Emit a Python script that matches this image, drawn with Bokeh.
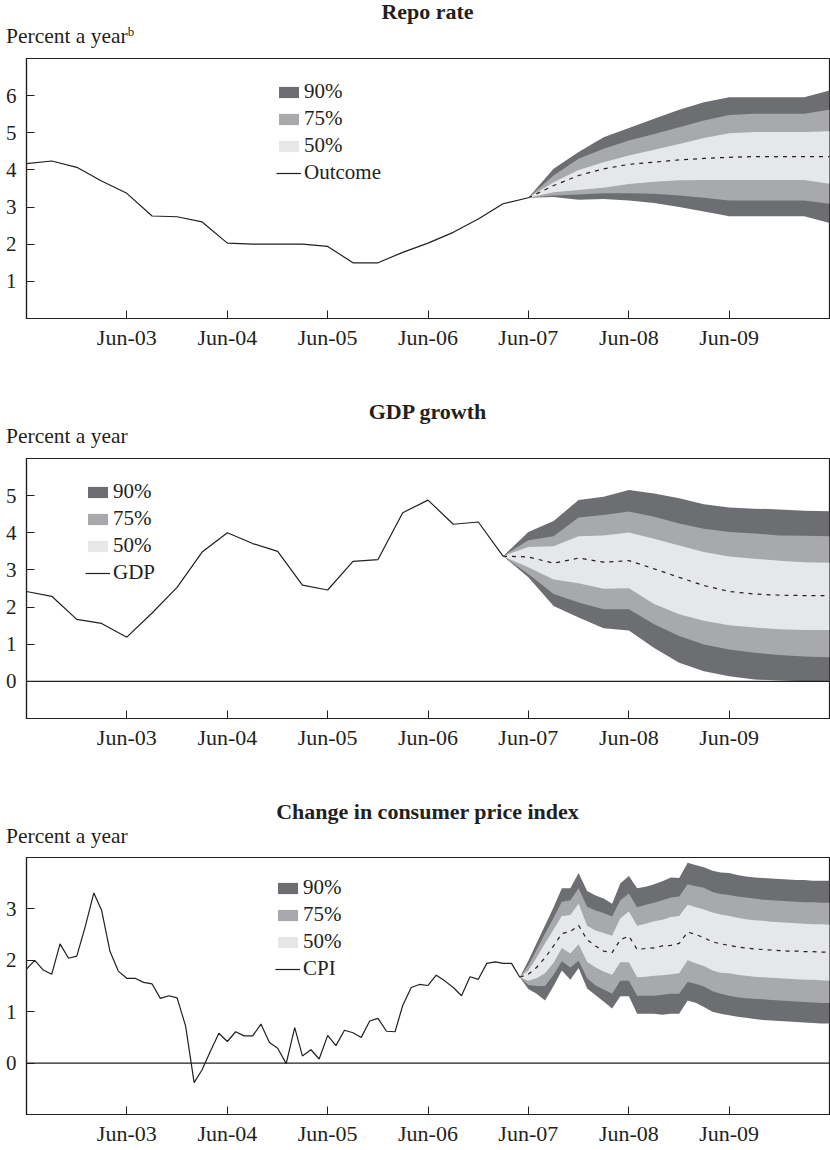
import pandas as pd
from bokeh.plotting import figure
from bokeh.models import (Range1d, FixedTicker, DatetimeTickFormatter, Div,
                          Legend, LegendItem, Span, ColumnDataSource)
from bokeh.layouts import column
from bokeh.embed import file_html
from bokeh.resources import INLINE

# ---------------- data ----------------
tick_dates = ["2003-06-01", "2004-06-01", "2005-06-01", "2006-06-01",
              "2007-06-01", "2008-06-01", "2009-06-01"]
x_start, x_end = "2002-06-01", "2010-06-01"

# Repo rate (quarterly)
repo_hist_start = "2002-06-01"
repo_hist = [4.17, 4.24, 4.07, 3.70, 3.37, 2.76, 2.74, 2.60, 2.03, 2.00, 2.00,
             2.00, 1.94, 1.50, 1.50, 1.78, 2.03, 2.32, 2.68, 3.09, 3.25]
repo_fan_start = "2007-06-01"
repo_u90 = [3.25, 4.03, 4.48, 4.88, 5.13, 5.38, 5.62, 5.82, 5.96, 5.96, 5.96, 5.96, 6.14]
repo_u75 = [3.25, 3.85, 4.30, 4.57, 4.79, 4.97, 5.15, 5.33, 5.48, 5.51, 5.51, 5.51, 5.62]
repo_u50 = [3.25, 3.67, 4.00, 4.21, 4.39, 4.54, 4.70, 4.86, 4.99, 5.02, 5.02, 5.02, 5.04]
repo_med = [3.25, 3.58, 3.85, 4.03, 4.15, 4.21, 4.27, 4.31, 4.34, 4.36, 4.36, 4.36, 4.36]
repo_l50 = [3.25, 3.40, 3.46, 3.52, 3.62, 3.68, 3.72, 3.73, 3.73, 3.73, 3.73, 3.73, 3.63]
repo_l75 = [3.25, 3.31, 3.34, 3.37, 3.37, 3.36, 3.31, 3.25, 3.18, 3.18, 3.18, 3.18, 3.09]
repo_l90 = [3.25, 3.27, 3.20, 3.22, 3.18, 3.11, 3.00, 2.88, 2.75, 2.75, 2.75, 2.75, 2.57]

# GDP growth (quarterly)
gdp_hist_start = "2002-06-01"
gdp_hist = [2.42, 2.29, 1.67, 1.56, 1.19, 1.84, 2.53, 3.48, 4.00, 3.71, 3.50,
            2.59, 2.46, 3.23, 3.28, 4.54, 4.88, 4.23, 4.29, 3.37]
gdp_fan_start = "2007-03-01"
gdp_u90 = [3.37, 4.02, 4.32, 4.88, 4.97, 5.15, 5.06, 4.93, 4.77, 4.68, 4.65, 4.63, 4.59, 4.58]
gdp_u75 = [3.37, 3.80, 3.91, 4.41, 4.48, 4.57, 4.43, 4.25, 4.11, 4.02, 3.98, 3.93, 3.92, 3.91]
gdp_u50 = [3.37, 3.62, 3.64, 3.91, 3.93, 4.01, 3.84, 3.66, 3.48, 3.36, 3.30, 3.25, 3.21, 3.19]
gdp_med = [3.37, 3.35, 3.18, 3.32, 3.21, 3.25, 3.03, 2.80, 2.58, 2.42, 2.35, 2.32, 2.31, 2.31]
gdp_l50 = [3.37, 3.07, 2.74, 2.64, 2.49, 2.51, 2.08, 1.81, 1.63, 1.51, 1.45, 1.40, 1.38, 1.38]
gdp_l75 = [3.37, 2.89, 2.35, 2.12, 1.94, 1.94, 1.54, 1.22, 0.99, 0.86, 0.77, 0.71, 0.67, 0.65]
gdp_l90 = [3.37, 2.80, 2.03, 1.72, 1.43, 1.37, 0.90, 0.50, 0.27, 0.14, 0.05, 0.02, 0.00, 0.00]

# CPI (monthly)
cpi_hist_start = "2002-06-01"
cpi_hist = [1.83, 2.00, 1.81, 1.73, 2.32, 2.04, 2.08, 2.66, 3.31, 2.98, 2.17, 1.79,
            1.65, 1.65, 1.57, 1.54, 1.26, 1.31, 1.27, 0.72, -0.38, -0.13, 0.24, 0.58,
            0.42, 0.61, 0.53, 0.53, 0.76, 0.40, 0.29, -0.01, 0.69, 0.14, 0.26, 0.08,
            0.54, 0.34, 0.64, 0.59, 0.50, 0.82, 0.87, 0.62, 0.61, 1.12, 1.47, 1.53,
            1.51, 1.71, 1.60, 1.47, 1.31, 1.68, 1.63, 1.94, 1.97, 1.94, 1.94, 1.67]
cpi_fan_start = "2007-05-01"
cpi_u90 = [1.67, 1.99, 2.33, 2.68, 3.03, 3.40, 3.40, 3.70, 3.35, 3.26, 3.20, 3.10, 3.50,
           3.64, 3.40, 3.43, 3.48, 3.54, 3.61, 3.60, 3.90, 3.85, 3.81, 3.74, 3.71, 3.70,
           3.66, 3.63, 3.61, 3.60, 3.59, 3.58, 3.57, 3.56, 3.56, 3.55, 3.55, 3.55]
cpi_u75 = [1.67, 1.90, 2.20, 2.52, 2.83, 3.14, 3.17, 3.40, 3.04, 2.97, 2.92, 2.85, 3.17,
           3.30, 3.03, 3.08, 3.12, 3.17, 3.22, 3.24, 3.48, 3.44, 3.41, 3.33, 3.29, 3.27,
           3.24, 3.22, 3.20, 3.18, 3.17, 3.16, 3.15, 3.14, 3.13, 3.13, 3.12, 3.12]
cpi_u50 = [1.67, 1.80, 2.05, 2.33, 2.60, 2.86, 2.88, 3.10, 2.67, 2.58, 2.53, 2.48, 2.82,
           2.95, 2.67, 2.71, 2.76, 2.79, 2.84, 2.86, 3.08, 3.03, 2.99, 2.93, 2.89, 2.86,
           2.83, 2.80, 2.78, 2.77, 2.75, 2.74, 2.73, 2.72, 2.71, 2.70, 2.70, 2.69]
cpi_med = [1.67, 1.73, 1.86, 2.05, 2.28, 2.52, 2.56, 2.68, 2.40, 2.28, 2.18, 2.15, 2.40,
           2.47, 2.21, 2.23, 2.24, 2.28, 2.29, 2.33, 2.55, 2.50, 2.44, 2.36, 2.32, 2.29,
           2.26, 2.24, 2.22, 2.21, 2.20, 2.19, 2.18, 2.18, 2.17, 2.17, 2.16, 2.16]
cpi_l50 = [1.67, 1.60, 1.65, 1.75, 1.95, 2.24, 2.13, 2.31, 1.97, 1.86, 1.78, 1.72, 1.96,
           1.96, 1.67, 1.68, 1.70, 1.71, 1.73, 1.75, 2.00, 1.94, 1.89, 1.80, 1.76, 1.75,
           1.72, 1.70, 1.68, 1.67, 1.66, 1.65, 1.64, 1.63, 1.62, 1.62, 1.61, 1.60]
cpi_l75 = [1.67, 1.52, 1.50, 1.50, 1.72, 1.98, 1.86, 1.99, 1.65, 1.51, 1.43, 1.35, 1.60,
           1.60, 1.31, 1.31, 1.31, 1.33, 1.35, 1.35, 1.58, 1.54, 1.49, 1.40, 1.35, 1.31,
           1.28, 1.26, 1.25, 1.24, 1.23, 1.22, 1.21, 1.20, 1.19, 1.18, 1.17, 1.17]
cpi_l90 = [1.67, 1.44, 1.35, 1.22, 1.50, 1.80, 1.62, 1.85, 1.45, 1.32, 1.20, 1.06, 1.30,
           1.30, 0.96, 0.96, 0.96, 0.94, 0.96, 0.96, 1.22, 1.17, 1.09, 1.00, 0.96, 0.93,
           0.90, 0.88, 0.86, 0.84, 0.83, 0.82, 0.81, 0.80, 0.79, 0.78, 0.77, 0.77]

# ---------------- style ----------------
FONT = "Liberation Serif"
INK = "#231f20"
C90, C75, C50 = "#6d6e71", "#a7a9ac", "#e6e7e8"
W = 830
FRAME_H = 260
HEAD_H = 48


def dates(start, n, months):
    return pd.date_range(start=start, periods=n, freq=f"{months}MS")


def heading(title, ylab, sup=""):
    sup_html = (f'<span style="font-size:13px;vertical-align:0.55em;line-height:0">{sup}</span>'
                if sup else "")
    html = (
        f'<div style="display:block;width:{W}px;box-sizing:border-box;margin:0;'
        f'padding:0 0 0 25px;height:24px;line-height:24px;'
        f'text-align:center;font-family:\'{FONT}\';font-size:22px;font-weight:bold;'
        f'color:{INK};white-space:nowrap">{title}</div>'
        f'<div style="display:block;width:{W}px;box-sizing:border-box;margin:0;'
        f'padding:0 0 0 6px;height:24px;line-height:24px;text-align:left;'
        f'font-family:\'{FONT}\';font-size:21.5px;color:{INK};white-space:nowrap">'
        f'{ylab}{sup_html}</div>'
    )
    return Div(text=html, width=W, height=HEAD_H, margin=(0, 0, 0, 0),
               styles={"margin": "0", "padding": "0", "width": f"{W}px"})


def panel(yr, yticks, hx, hy, fx, u90, u75, u50, med, l50, l75, l90,
          line_label, leg_x, height, top, zero=False):
    bottom = height - top - FRAME_H
    p = figure(width=W, height=height, x_axis_type="datetime",
               x_range=Range1d(pd.Timestamp(x_start), pd.Timestamp(x_end)),
               y_range=Range1d(*yr), output_backend="svg", toolbar_location=None,
               title=None, min_border_left=26, min_border_right=1,
               min_border_top=top, min_border_bottom=bottom, margin=(0, 0, 0, 0))
    p.background_fill_color = "white"
    p.border_fill_color = "white"
    p.outline_line_color = INK
    p.outline_line_width = 1.2
    p.xgrid.visible = False
    p.ygrid.visible = False

    fan = ColumnDataSource(dict(x=fx, u90=u90, u75=u75, u50=u50, med=med,
                                l50=l50, l75=l75, l90=l90))
    hist = ColumnDataSource(dict(x=hx, y=hy))
    r90 = p.varea(x="x", y1="l90", y2="u90", source=fan, fill_color=C90)
    r75 = p.varea(x="x", y1="l75", y2="u75", source=fan, fill_color=C75)
    r50 = p.varea(x="x", y1="l50", y2="u50", source=fan, fill_color=C50)
    if zero:
        p.add_layout(Span(location=0, dimension="width", line_color=INK, line_width=1.2))
    p.line(x="x", y="med", source=fan, line_color=INK, line_width=1.2, line_dash="4 5")
    rl = p.line(x="x", y="y", source=hist, line_color=INK, line_width=1.2)

    ax = p.xaxis[0]
    ax.ticker = FixedTicker(ticks=[pd.Timestamp(d).value // 10**6 for d in tick_dates])
    fmt = "%b-%y"
    ax.formatter = DatetimeTickFormatter(years=fmt, months=fmt, days=fmt, hours=fmt,
                                         minutes=fmt, seconds=fmt, milliseconds=fmt,
                                         microseconds=fmt, minsec=fmt, hourmin=fmt)
    ay = p.yaxis[0]
    ay.ticker = FixedTicker(ticks=yticks)
    for a, so, fs in ((ax, 6, "22px"), (ay, 10, "21px")):
        a.major_tick_in = 8
        a.major_tick_out = 0
        a.minor_tick_in = 0
        a.minor_tick_out = 0
        a.major_tick_line_color = INK
        a.axis_line_color = INK
        a.axis_line_width = 1.2
        a.major_label_text_font = FONT
        a.major_label_text_font_size = fs
        a.major_label_text_color = INK
        a.major_label_standoff = so

    leg = Legend(items=[LegendItem(label="90%", renderers=[r90]),
                        LegendItem(label="75%", renderers=[r75]),
                        LegendItem(label="50%", renderers=[r50]),
                        LegendItem(label=line_label, renderers=[rl])],
                 location=(leg_x, 133), border_line_color=None,
                 background_fill_alpha=0, label_text_font=FONT,
                 label_text_font_size="21px", label_text_color=INK,
                 glyph_width=25, glyph_height=14, label_standoff=3,
                 label_height=24, spacing=2, padding=0, margin=0)
    p.add_layout(leg)
    return p


h1 = heading("Repo rate", "Percent a year", "b")
p1 = panel((0, 7), [1, 2, 3, 4, 5, 6],
           dates(repo_hist_start, len(repo_hist), 3), repo_hist,
           dates(repo_fan_start, len(repo_u90), 3),
           repo_u90, repo_u75, repo_u50, repo_med, repo_l50, repo_l75, repo_l90,
           "Outcome", 250, 400 - HEAD_H, 10)
h2 = heading("GDP growth", "Percent a year")
p2 = panel((-1, 6), [0, 1, 2, 3, 4, 5],
           dates(gdp_hist_start, len(gdp_hist), 3), gdp_hist,
           dates(gdp_fan_start, len(gdp_u90), 3),
           gdp_u90, gdp_u75, gdp_u50, gdp_med, gdp_l50, gdp_l75, gdp_l90,
           "GDP", 59, 400 - HEAD_H, 10, zero=True)
h3 = heading("Change in consumer price index", "Percent a year")
p3 = panel((-1, 4), [0, 1, 2, 3],
           dates(cpi_hist_start, len(cpi_hist), 1), cpi_hist,
           dates(cpi_fan_start, len(cpi_u90), 1),
           cpi_u90, cpi_u75, cpi_u50, cpi_med, cpi_l50, cpi_l75, cpi_l90,
           "CPI", 249, 348 - HEAD_H, 9, zero=True)

layout = column(h1, p1, h2, p2, h3, p3, spacing=0, margin=(0, 0, 0, 0))
open("out.html", "w").write(file_html(layout, INLINE))
